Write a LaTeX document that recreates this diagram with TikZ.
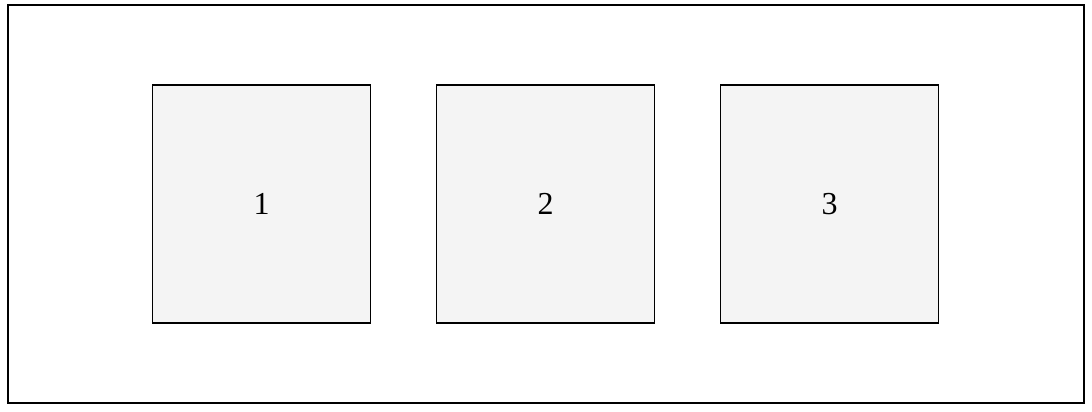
\documentclass[tikz,border=0pt]{standalone}
\usepackage{fontspec}
\setmainfont{Liberation Serif}
\usetikzlibrary{positioning}
\definecolor{cellgray}{HTML}{F4F4F4}
\begin{document}
\begin{tikzpicture}[x=1pt,y=1pt,
cell/.style={draw, line width=1.3pt, fill=cellgray, minimum width=218pt,
    minimum height=238pt, inner sep=0pt, font=\fontsize{32}{38}\selectfont},
node distance=64.7pt]
\useasboundingbox (0,0) rectangle (1092,412);
\draw[line width=1.3pt] (8,9) rectangle (1084,407);
\node[cell] (c1) at (261.5,208) {1};
\node[cell, right=of c1] (c2) {2};
\node[cell, right=of c2] (c3) {3};
\end{tikzpicture}
\end{document}
